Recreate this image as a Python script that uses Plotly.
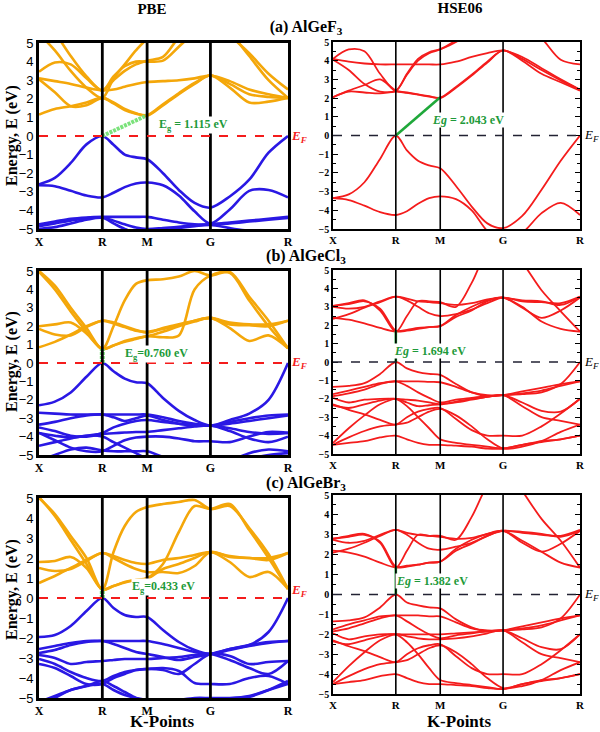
import plotly.graph_objects as go

# ---------------- data ----------------
K_LABELS = ["X", "R", "M", "G", "R"]
K_NODES = [0.0, 0.707, 1.207, 1.914, 2.780]
K_GRID = [0.0, 0.177, 0.354, 0.530, 0.707, 0.832, 0.957, 1.082, 1.207,
          1.384, 1.561, 1.737, 1.914, 2.130, 2.347, 2.563, 2.780]

# (a) AlGeF3 PBE
A_PBE_CB = [
    [1.15, 1.45, 1.6, 1.8, 2.05, 1.75, 1.4, 1.2, 1.1, 1.65, 2.25, 2.8, 3.25, 2.6, 1.8, 1.85, 2.05],
    [3.05, 2.35, 1.6, 1.65, 2.05, 1.8, 1.45, 1.22, 1.12, 1.7, 2.3, 2.85, 3.25, 2.8, 2.25, 2.1, 2.05],
    [3.1, 2.95, 2.8, 2.6, 2.45, 2.5, 2.65, 2.8, 2.9, 2.95, 3.0, 3.1, 3.25, 2.95, 2.5, 2.25, 2.05],
    [3.45, 3.95, 3.85, 3.1, 2.45, 3.0, 3.5, 3.85, 4.05, 4.25, 5.3, 6.0, 6.2, 5.4, 4.45, 3.35, 2.5],
    [5.5, 4.6, 3.5, 2.6, 2.05, 3.1, 3.85, 4.6, 5.2, 5.6, 6.0, 6.5, 6.8, 5.6, 4.3, 3.0, 2.05],
    [7.0, 5.6, 4.3, 3.2, 2.45, 3.2, 3.75, 4.0, 4.0, 4.05, 4.8, 5.6, 6.5, 7.0, 7.0, 7.0, 7.0],
]
A_PBE_VB = [
    [-2.6, -2.25, -1.45, -0.45, 0.0, -0.47, -1.0, -1.15, -1.25, -2.0, -2.9, -3.6, -3.85, -3.25, -2.35, -0.9, 0.0],
    [-2.65, -2.7, -2.95, -3.2, -3.3, -3.05, -2.75, -2.55, -2.5, -2.65, -3.2, -4.05, -4.7, -3.95, -2.95, -2.9, -3.3],
    [-4.75, -4.6, -4.45, -4.38, -4.35, -4.35, -4.35, -4.35, -4.35, -4.5, -4.65, -4.75, -4.75, -4.65, -4.55, -4.45, -4.35],
    [-4.85, -4.7, -4.55, -4.42, -4.38, -4.55, -4.75, -4.92, -5.0, -4.95, -4.88, -4.8, -4.75, -4.7, -4.6, -4.5, -4.4],
    [-5.0, -4.9, -4.7, -4.5, -4.4, -4.7, -5.0, -5.2, -5.3, -5.1, -4.95, -4.85, -4.78, -4.95, -5.1, -5.2, -5.3],
]
# (a) AlGeF3 HSE06
A_HSE_CB = [
    [2.05, 2.4, 2.7, 3.0, 2.4, 2.3, 2.2, 2.1, 2.0, 2.55, 3.2, 3.9, 4.55, 4.0, 3.3, 2.85, 2.4],
    [2.05, 2.35, 2.3, 2.25, 2.35, 2.28, 2.18, 2.08, 2.02, 2.6, 3.25, 3.95, 4.55, 4.1, 3.5, 2.95, 2.45],
    [4.05, 3.5, 2.75, 2.35, 2.4, 3.25, 4.0, 4.4, 4.6, 5.0, 5.6, 6.2, 6.5, 6.0, 5.2, 4.05, 3.8],
    [4.1, 4.6, 4.5, 3.3, 2.4, 3.3, 4.1, 4.45, 4.62, 5.1, 5.8, 6.5, 7.0, 7.0, 7.0, 7.0, 7.0],
    [4.1, 3.95, 3.85, 3.8, 3.8, 3.8, 3.8, 3.8, 3.8, 3.95, 4.2, 4.4, 4.55, 4.2, 3.6, 3.0, 2.45],
]
A_HSE_VB = [
    [-3.35, -3.15, -2.5, -1.25, 0.0, -0.8, -1.35, -1.6, -1.75, -2.7, -3.8, -4.7, -4.95, -4.3, -2.9, -1.35, 0.0],
    [-3.35, -3.45, -3.75, -4.1, -4.25, -4.05, -3.65, -3.35, -3.25, -3.4, -4.0, -5.1, -5.6, -5.2, -4.15, -3.6, -4.25],
]
# (b) AlGeCl3 PBE
B_PBE_CB = [
    [0.85, 1.15, 1.55, 2.0, 2.3, 2.2, 2.0, 1.8, 1.65, 1.9, 2.1, 2.3, 2.45, 2.2, 2.1, 2.1, 2.3],
    [1.85, 1.55, 1.5, 1.95, 2.3, 2.15, 1.95, 1.75, 1.7, 1.85, 2.05, 2.3, 2.45, 2.1, 2.05, 2.0, 2.3],
    [2.0, 2.1, 2.2, 1.6, 0.76, 0.95, 1.15, 1.3, 1.45, 1.4, 1.5, 4.0, 4.75, 4.9, 3.4, 2.0, 0.8],
    [5.0, 4.2, 3.0, 1.9, 0.76, 2.0, 3.4, 4.3, 4.5, 4.55, 4.7, 5.0, 4.75, 4.95, 3.6, 2.3, 0.8],
    [4.95, 4.0, 2.8, 1.7, 0.76, 0.95, 1.2, 1.35, 1.45, 1.7, 2.0, 2.25, 2.45, 1.9, 1.2, 1.5, 0.8],
]
B_PBE_VB = [
    [-2.3, -2.1, -1.6, -0.75, 0.0, -0.45, -0.85, -1.05, -1.1, -1.9, -2.6, -3.1, -3.4, -3.1, -2.75, -2.0, 0.0],
    [-2.7, -2.75, -2.8, -2.8, -2.8, -2.8, -2.8, -2.8, -2.8, -2.95, -3.15, -3.3, -3.4, -3.2, -3.0, -2.85, -2.8],
    [-3.35, -3.2, -3.0, -2.85, -2.8, -2.95, -3.15, -3.0, -2.85, -3.1, -3.3, -3.4, -3.4, -3.3, -3.15, -3.0, -2.85],
    [-3.5, -3.7, -3.95, -4.0, -3.8, -3.5, -3.3, -3.15, -3.1, -3.2, -3.3, -3.35, -3.4, -3.55, -3.75, -3.85, -3.8],
    [-3.8, -3.95, -4.05, -3.95, -3.85, -3.82, -3.78, -3.75, -3.75, -3.65, -3.55, -3.45, -3.4, -3.7, -4.1, -4.3, -4.0],
    [-3.8, -4.2, -4.6, -4.8, -4.8, -4.5, -4.2, -4.05, -4.0, -4.0, -4.1, -4.25, -4.25, -4.3, -4.0, -3.75, -3.8],
    [-5.3, -5.0, -4.7, -4.6, -4.75, -4.8, -4.8, -4.8, -4.8, -5.1, -5.3, -5.4, -5.4, -5.3, -4.9, -4.7, -4.8],
    [-4.5, -4.3, -4.1, -3.95, -4.0, -4.3, -4.6, -4.9, -5.2, -5.4, -5.5, -5.5, -5.5, -5.4, -5.2, -5.0, -4.9],
]
# (b) AlGeCl3 HSE06
B_HSE_CB = [
    [3.05, 3.2, 3.35, 2.8, 1.65, 2.5, 3.3, 3.3, 3.25, 3.0, 4.3, 6.0, 6.5, 5.4, 3.9, 2.75, 1.65],
    [3.05, 3.15, 3.3, 2.9, 1.7, 1.75, 1.85, 1.9, 1.95, 2.55, 3.0, 3.35, 3.5, 3.0, 2.2, 1.8, 1.65],
    [3.0, 2.9, 3.0, 3.3, 3.55, 3.35, 3.0, 2.65, 2.5, 2.6, 2.85, 3.2, 3.5, 3.3, 3.25, 3.2, 3.55],
    [2.4, 2.3, 2.1, 1.85, 1.65, 1.7, 1.8, 1.9, 1.95, 2.45, 2.8, 3.3, 3.5, 2.95, 2.4, 2.8, 3.5],
    [2.35, 2.6, 2.95, 3.25, 3.55, 3.45, 3.3, 3.25, 3.2, 3.1, 3.2, 3.4, 3.5, 3.35, 3.3, 3.1, 3.55],
]
B_HSE_VB = [
    [-1.35, -1.3, -1.15, -0.65, 0.0, -0.35, -0.55, -0.65, -0.7, -1.2, -1.65, -1.85, -1.8, -1.75, -1.65, -1.2, 0.0],
    [-1.75, -1.55, -1.35, -1.15, -1.05, -1.05, -1.05, -1.08, -1.1, -1.35, -1.65, -1.8, -1.8, -1.6, -1.4, -1.2, -1.05],
    [-1.85, -1.7, -1.5, -1.2, -1.05, -1.3, -1.65, -1.95, -2.2, -2.05, -1.95, -1.85, -1.8, -1.7, -1.55, -1.3, -1.05],
    [-1.95, -2.2, -2.05, -2.0, -2.0, -2.05, -2.1, -2.2, -2.3, -2.15, -2.0, -1.9, -1.8, -2.2, -2.65, -2.7, -2.0],
    [-2.3, -2.6, -2.85, -3.15, -3.4, -3.0, -2.7, -2.55, -2.5, -3.1, -3.7, -4.0, -4.0, -4.0, -3.5, -2.8, -2.0],
    [-2.35, -2.5, -2.3, -2.1, -2.0, -2.4, -3.0, -3.6, -4.2, -4.4, -4.5, -4.6, -4.7, -4.5, -4.3, -4.2, -4.0],
    [-4.4, -3.6, -2.9, -2.3, -2.0, -2.2, -2.4, -2.35, -2.3, -2.2, -2.05, -1.9, -1.8, -2.4, -3.0, -3.2, -3.4],
    [-4.5, -4.4, -4.3, -4.1, -4.0, -4.2, -4.4, -4.5, -4.5, -4.55, -4.6, -4.7, -4.7, -4.5, -4.35, -4.2, -4.0],
    [-4.5, -4.1, -3.75, -3.5, -3.4, -3.3, -3.0, -2.7, -2.55, -2.9, -3.5, -4.2, -4.7, -4.6, -4.3, -3.8, -3.4],
]
# (c) AlGeBr3 PBE
C_PBE_CB = [
    [0.75, 1.1, 1.5, 1.9, 2.25, 2.1, 1.9, 1.75, 1.7, 1.9, 2.0, 2.15, 2.3, 2.1, 2.0, 2.0, 2.25],
    [1.5, 1.35, 1.45, 1.85, 2.25, 2.0, 1.7, 1.45, 1.3, 1.3, 1.25, 1.6, 2.3, 2.05, 2.0, 1.9, 2.25],
    [1.8, 1.85, 2.05, 1.5, 0.43, 0.6, 0.78, 0.9, 0.95, 1.45, 1.7, 2.0, 2.3, 1.8, 1.05, 1.3, 0.45],
    [5.0, 4.2, 3.1, 2.0, 0.43, 2.3, 3.6, 4.3, 4.55, 4.7, 4.8, 4.9, 4.45, 4.6, 3.5, 2.2, 0.45],
    [5.05, 4.1, 2.9, 1.7, 0.43, 0.6, 0.8, 0.9, 1.0, 1.7, 3.3, 4.6, 4.45, 4.7, 3.4, 2.0, 0.45],
]
C_PBE_VB = [
    [-1.95, -1.85, -1.4, -0.65, 0.0, -0.5, -0.85, -0.95, -0.95, -1.6, -2.2, -2.6, -2.8, -2.55, -2.35, -1.7, 0.0],
    [-2.55, -2.4, -2.25, -2.15, -2.15, -2.15, -2.15, -2.15, -2.15, -2.3, -2.5, -2.7, -2.8, -2.6, -2.4, -2.25, -2.15],
    [-2.75, -2.6, -2.35, -2.2, -2.15, -2.3, -2.5, -2.7, -2.8, -2.95, -3.1, -2.95, -2.8, -2.55, -2.35, -2.2, -2.15],
    [-2.85, -3.0, -3.3, -3.2, -3.15, -3.1, -3.05, -3.05, -3.05, -3.0, -2.95, -2.85, -2.8, -3.1, -3.5, -3.8, -3.15],
    [-3.05, -3.3, -3.7, -4.0, -4.15, -3.9, -3.7, -3.6, -3.55, -3.5, -3.65, -4.25, -4.3, -4.3, -4.0, -3.9, -4.3],
    [-3.3, -3.5, -3.9, -4.3, -4.3, -4.0, -3.8, -3.6, -3.55, -3.6, -3.8, -3.3, -2.8, -2.9, -3.3, -3.2, -3.15],
    [-5.2, -4.9, -4.6, -4.4, -4.15, -4.4, -4.7, -5.0, -5.2, -5.2, -5.1, -5.0, -5.0, -5.0, -4.9, -4.6, -4.3],
    [-5.5, -5.0, -4.6, -4.4, -4.3, -4.6, -4.85, -5.0, -5.1, -5.2, -5.3, -5.3, -5.3, -5.2, -4.95, -4.6, -4.15],
]
# (c) AlGeBr3 HSE06
C_HSE_CB = [
    [2.8, 2.95, 3.05, 2.6, 1.35, 2.2, 3.0, 2.95, 2.95, 2.75, 3.9, 5.5, 6.5, 5.2, 3.8, 2.7, 1.35],
    [2.8, 2.9, 3.0, 2.65, 1.4, 1.45, 1.5, 1.6, 1.65, 2.3, 2.75, 3.05, 3.2, 2.7, 2.15, 1.6, 1.35],
    [2.75, 2.6, 2.7, 3.0, 3.25, 3.0, 2.6, 2.3, 2.25, 2.4, 2.6, 2.95, 3.2, 3.1, 3.0, 2.95, 3.25],
    [2.2, 2.1, 1.9, 1.6, 1.35, 1.4, 1.5, 1.6, 1.65, 2.2, 2.55, 2.95, 3.2, 2.6, 2.15, 2.55, 3.2],
    [2.1, 2.3, 2.6, 2.95, 3.25, 3.1, 3.0, 2.95, 2.9, 2.8, 2.85, 3.05, 3.2, 3.15, 3.05, 2.9, 3.2],
]
C_HSE_VB = [
    [-1.35, -1.3, -1.15, -0.65, 0.0, -0.4, -0.55, -0.65, -0.7, -1.25, -1.65, -1.85, -1.8, -1.75, -1.65, -1.2, 0.0],
    [-1.75, -1.5, -1.3, -1.1, -1.05, -1.05, -1.05, -1.1, -1.1, -1.4, -1.7, -1.8, -1.8, -1.6, -1.4, -1.2, -1.05],
    [-1.85, -1.7, -1.45, -1.2, -1.05, -1.35, -1.7, -2.0, -2.2, -2.05, -1.95, -1.85, -1.8, -1.7, -1.55, -1.3, -1.05],
    [-1.95, -2.25, -2.1, -2.0, -2.0, -2.0, -2.0, -2.0, -2.0, -1.95, -1.9, -1.85, -1.8, -2.2, -2.65, -2.75, -2.0],
    [-2.3, -2.6, -2.85, -3.15, -3.4, -3.0, -2.7, -2.55, -2.5, -3.1, -3.7, -4.0, -4.0, -4.0, -3.5, -2.8, -2.0],
    [-2.35, -2.5, -2.3, -2.1, -2.0, -2.4, -3.0, -3.7, -4.3, -4.45, -4.55, -4.65, -4.75, -4.5, -4.3, -4.2, -4.0],
    [-4.4, -3.6, -2.9, -2.3, -2.0, -2.1, -2.2, -2.25, -2.25, -2.2, -2.1, -1.95, -1.8, -2.4, -3.0, -3.2, -3.4],
    [-4.5, -4.4, -4.3, -4.1, -4.0, -4.2, -4.4, -4.5, -4.5, -4.55, -4.6, -4.7, -4.75, -4.5, -4.35, -4.2, -4.0],
    [-4.5, -4.1, -3.75, -3.5, -3.4, -3.3, -3.0, -2.7, -2.55, -2.9, -3.5, -4.2, -4.7, -4.6, -4.3, -3.8, -3.4],
]

# band gaps: (node_start, E_start, node_end, E_end)
PBE_GAPS = [(1, 0.0, 2, 1.115), (1, 0.0, 1, 0.760), (1, 0.0, 1, 0.433)]
HSE_GAPS = [(1, 0.0, 2, 2.043), (1, 0.0, 1, 1.694), (1, 0.0, 1, 1.382)]
PBE_LABELS = ["E<sub>g</sub> = 1.115 eV", "E<sub>g</sub>=0.760 eV", "E<sub>g</sub>=0.433 eV"]
HSE_LABELS = ["<i>Eg</i> = 2.043 eV", "<i>Eg</i> = 1.694 eV", "<i>Eg</i> = 1.382 eV"]
ROW_TITLES = ["(a) AlGeF<sub>3</sub>", "(b) AlGeCl<sub>3</sub>", "(c) AlGeBr<sub>3</sub>"]
METHOD_TITLES = ["PBE", "HSE06"]

PBE_CB = [A_PBE_CB, B_PBE_CB, C_PBE_CB]
PBE_VB = [A_PBE_VB, B_PBE_VB, C_PBE_VB]
HSE_CB = [A_HSE_CB, B_HSE_CB, C_HSE_CB]
HSE_VB = [A_HSE_VB, B_HSE_VB, C_HSE_VB]

# ---------------- style ----------------
W, H = 600, 732
ORANGE = "#F4A70A"
BLUE = "#2A18E4"
RED = "#F41C1C"
SERIF = "Liberation Serif"
SANS = "Liberation Sans"

def px(x):
    return x / W

def py(y):
    return 1 - y / H

LEFT_X = [px(39), px(288)]
RIGHT_X = [px(333), px(580)]
LEFT_Y = [[py(229), py(43)], [py(455), py(271)], [py(698), py(498)]]
RIGHT_Y = [[py(229), py(42)], [py(454), py(270)], [py(694), py(495)]]

fig = go.Figure()
layout = {}
shapes = []
annotations = []

def add_bands(bands, color, width, ax):
    for b in bands:
        fig.add_trace(go.Scatter(
            x=K_GRID, y=b, mode="lines",
            line=dict(color=color, width=width, shape="spline", smoothing=0.9),
            xaxis="x" + ax, yaxis="y" + ax, hoverinfo="skip", showlegend=False))

def note(x, y, s, size, color="black", xanchor="center", yanchor="middle", angle=0, bg=None):
    d = dict(xref="paper", yref="paper", x=px(x), y=py(y), text=s,
             showarrow=False, textangle=angle, xanchor=xanchor, yanchor=yanchor,
             font=dict(family=SERIF, size=size, color=color))
    if bg:
        d.update(bgcolor=bg, borderpad=0)
    annotations.append(d)

for r in range(3):
    for c in range(2):
        idx = r * 2 + c + 1
        ax = "" if idx == 1 else str(idx)
        pbe = c == 0
        xd = LEFT_X if pbe else RIGHT_X
        yd = LEFT_Y[r] if pbe else RIGHT_Y[r]
        lw = 2.6 if pbe else 1.6
        layout["xaxis" + ax] = dict(
            domain=xd, anchor="y" + ax, range=[0, K_NODES[-1]], automargin=False,
            showline=True, mirror=True, linecolor="black", linewidth=lw,
            tickvals=K_NODES, ticktext=["<b>%s</b>" % t for t in K_LABELS],
            tickfont=dict(family=SERIF, size=12 if pbe else 11, color="black"),
            ticks="", showgrid=False, zeroline=False)
        ydict = dict(
            domain=yd, anchor="x" + ax, range=[-5, 5], tickmode="linear", tick0=-5, dtick=1,
            automargin=False,
            showline=True, mirror=True if pbe else "ticks", linecolor="black", linewidth=lw,
            showgrid=False, zeroline=False)
        if pbe:
            ydict.update(ticks="", tickfont=dict(family=SANS, size=13, color="black"))
        else:
            ydict.update(ticks="inside", ticklen=5, tickwidth=1.2, tickcolor="black",
                         tickfont=dict(family=SERIF, size=10, color="black", weight="bold"),
                         minor=dict(ticks="inside", ticklen=3, dtick=0.5, tickwidth=1, tickcolor="black"))
        layout["yaxis" + ax] = ydict

        xref = "x" + ax
        yref = "y" + ax
        for kn in K_NODES[1:4]:
            shapes.append(dict(type="line", xref=xref, yref=yref + " domain", x0=kn, x1=kn,
                               y0=0, y1=1, line=dict(color="black", width=2.8 if pbe else 1.6),
                               layer="above"))
        if pbe:
            add_bands(PBE_VB[r], BLUE, 2.6, ax)
            add_bands(PBE_CB[r], ORANGE, 2.6, ax)
            shapes.append(dict(type="line", xref=xref + " domain", yref=yref, x0=0, x1=1, y0=0, y1=0,
                               line=dict(color=RED, width=2, dash="dash"), layer="above"))
            g = PBE_GAPS[r]
            fig.add_trace(go.Scatter(
                x=[K_NODES[g[0]], K_NODES[g[2]]], y=[g[1], g[3]], mode="lines",
                line=dict(color="#7BE27B", width=4 if r == 0 else 5, dash="3px,1px"),
                xaxis="x" + ax, yaxis="y" + ax, hoverinfo="skip", showlegend=False))
            lab_pos = [(193, 125), (156, 354), (163, 587)][r]
            note(lab_pos[0], lab_pos[1], "<b>%s</b>" % PBE_LABELS[r], 12, "#1E9A3A", bg="white")
            ef_y = [136, 362, 590][r]
            note(289, ef_y, "<b><i>E<sub>F</sub></i></b>", 13, RED, xanchor="left")
        else:
            add_bands(HSE_VB[r], RED, 1.8, ax)
            add_bands(HSE_CB[r], RED, 1.8, ax)
            shapes.append(dict(type="line", xref=xref + " domain", yref=yref, x0=0, x1=1, y0=0, y1=0,
                               line=dict(color="#222233", width=1.6, dash="dash"), layer="above"))
            g = HSE_GAPS[r]
            fig.add_trace(go.Scatter(
                x=[K_NODES[g[0]], K_NODES[g[2]]], y=[g[1], g[3]], mode="lines",
                line=dict(color="#1FA83A", width=2.6),
                xaxis="x" + ax, yaxis="y" + ax, hoverinfo="skip", showlegend=False))
            lab_pos = [(468, 120), (430, 351), (432, 581)][r]
            note(lab_pos[0], lab_pos[1], "<b>%s</b>" % HSE_LABELS[r], 12, "#1E9A3A", bg="white")
            ef_y = [135, 362, 594][r]
            note(582, ef_y, "<i>E<sub>F</sub></i>", 13, "black", xanchor="left")

for yy in [136, 362, 590]:
    note(12, yy, "<b>Energy, E (eV)</b>", 16, angle=-90)

# page-level titles drawn as text on a full-page overlay axis (pixel coordinates)
layout["xaxis7"] = dict(domain=[0, 1], range=[0, W], visible=False, fixedrange=True,
                        anchor="y7", automargin=False)
layout["yaxis7"] = dict(domain=[0, 1], range=[H, 0], visible=False, fixedrange=True,
                        anchor="x7", automargin=False)

def page_text(items, size):
    fig.add_trace(go.Scatter(
        x=[i[0] for i in items], y=[i[1] for i in items], mode="text",
        text=["<b>%s</b>" % i[2] for i in items], textposition="middle center",
        textfont=dict(family=SERIF, size=size, color="black"),
        xaxis="x7", yaxis="y7", hoverinfo="skip", showlegend=False, cliponaxis=False))

page_text([(152, 10, METHOD_TITLES[0]), (460, 9, METHOD_TITLES[1])], 15)
page_text([(306, 28, ROW_TITLES[0]), (306, 257, ROW_TITLES[1]), (306, 484, ROW_TITLES[2])], 16)
page_text([(162, 723, "K-Points"), (459, 723, "K-Points")], 17)

fig.update_layout(
    width=W, height=H, margin=dict(l=0, r=0, t=0, b=0, pad=0, autoexpand=False),
    paper_bgcolor="white", plot_bgcolor="rgba(0,0,0,0)",
    shapes=shapes, annotations=annotations, showlegend=False, **layout)

fig.write_html("out.html")
